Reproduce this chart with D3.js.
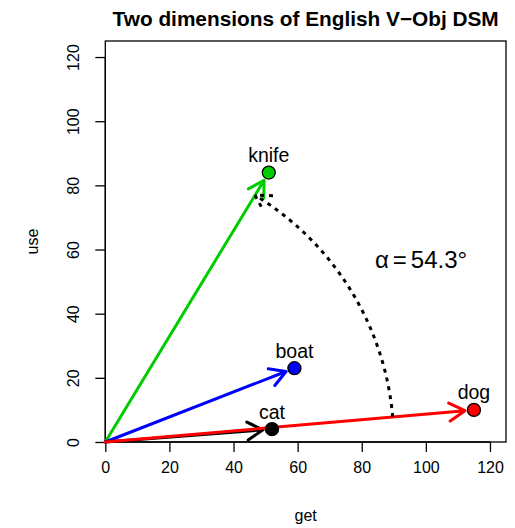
<!DOCTYPE html>
<html>
<head>
<meta charset="utf-8">
<script src="https://cdn.jsdelivr.net/npm/d3@7"></script>
<style>
  html, body { margin: 0; padding: 0; background: #fff; }
  text { font-family: "Liberation Sans", Arial, Helvetica, sans-serif; }
</style>
</head>
<body>
<script>
// ---- data ----
const words = ["knife", "boat", "cat", "dog"];
const getVals = [51, 59, 52, 115];
const useVals = [84, 23, 4, 10];
const colors = ["#00CD00", "#0000FF", "#000000", "#FF0000"];
const xTicks = [0, 20, 40, 60, 80, 100, 120];
const yTicks = [0, 20, 40, 60, 80, 100, 120];
const xDomain = [0, 125];
const yDomain = [0, 125];
const arcRadius = 90;           // radius of the angle arc (data units)
const angleLabel = "54.3";      // alpha in degrees
const angleLabelPos = [98.5, 57];
const title = "Two dimensions of English V\u2212Obj DSM";
const xTitle = "get";
const yTitle = "use";

// ---- layout ----
const W = 515, H = 528;
const L = 105.3, R = 506, T = 41, B = 442;

const svg = d3.select("body").append("svg")
  .attr("width", W).attr("height", H)
  .style("background", "#fff");

const x = d3.scaleLinear().domain(xDomain).range([L, R]);
const y = d3.scaleLinear().domain(yDomain).range([B, T]);

// box
svg.append("rect")
  .attr("x", L).attr("y", T).attr("width", R - L).attr("height", B - T)
  .attr("fill", "none").attr("stroke", "#000").attr("stroke-width", 1.3);

// axes
const xAxis = d3.axisBottom(x).tickValues(xTicks).tickSize(10).tickPadding(10).tickSizeOuter(0);
const gx = svg.append("g").attr("transform", `translate(0,${B})`).call(xAxis);
gx.select(".domain").attr("d", `M${x(xTicks[0])},0H${x(xTicks[xTicks.length-1])}`).attr("stroke-width", 1.3);
gx.selectAll(".tick line").attr("stroke-width", 1.3);
gx.selectAll(".tick text").attr("font-size", 16).attr("fill", "#000")
  .attr("font-family", "Liberation Sans, Arial, sans-serif");

const yAxis = d3.axisLeft(y).tickValues(yTicks).tickSize(10).tickSizeOuter(0);
const gy = svg.append("g").attr("transform", `translate(${L},0)`).call(yAxis);
gy.select(".domain").attr("d", `M0,${y(yTicks[0])}V${y(yTicks[yTicks.length-1])}`).attr("stroke-width", 1.3);
gy.selectAll(".tick line").attr("stroke-width", 1.3);
gy.selectAll(".tick text")
  .attr("font-size", 16).attr("fill", "#000")
  .attr("font-family", "Liberation Sans, Arial, sans-serif")
  .attr("x", null).attr("dy", null)
  .attr("text-anchor", "middle")
  .attr("transform", "translate(-26,0) rotate(-90)");

// titles
svg.append("text").attr("x", (L + R) / 2).attr("y", 26)
  .attr("text-anchor", "middle").attr("font-size", 20.8).attr("font-weight", "bold")
  .text(title);
svg.append("text").attr("x", (L + R) / 2).attr("y", 521)
  .attr("text-anchor", "middle").attr("font-size", 16).text(xTitle);
svg.append("text")
  .attr("transform", `translate(37.5,${(T + B) / 2}) rotate(-90)`)
  .attr("text-anchor", "middle").attr("font-size", 16).text(yTitle);

// helpers
const headLen = 18, headAng = Math.PI / 6;
function headPath(tx, ty, dx, dy) {
  const a = Math.atan2(dy, dx);
  const a1 = a + Math.PI - headAng, a2 = a + Math.PI + headAng;
  return `M${tx + headLen * Math.cos(a1)},${ty + headLen * Math.sin(a1)}L${tx},${ty}L${tx + headLen * Math.cos(a2)},${ty + headLen * Math.sin(a2)}`;
}

// vectors
const shorten = 9;
const arrows = svg.append("g");
words.forEach((w, i) => {
  const x0 = x(0), y0 = y(0), x1 = x(getVals[i]), y1 = y(useVals[i]);
  const len = Math.hypot(x1 - x0, y1 - y0);
  const ux = (x1 - x0) / len, uy = (y1 - y0) / len;
  const tx = x1 - ux * shorten, ty = y1 - uy * shorten;
  arrows.append("path")
    .attr("d", `M${x0},${y0}L${tx},${ty}` + headPath(tx, ty, ux, uy))
    .attr("fill", "none").attr("stroke", colors[i]).attr("stroke-width", 3)
    .attr("stroke-linecap", "round").attr("stroke-linejoin", "round");
});

// angle arc from dog to knife
const iDog = words.indexOf("dog"), iKnife = words.indexOf("knife");
const th0 = Math.atan2(useVals[iDog], getVals[iDog]);
const th1 = Math.atan2(useVals[iKnife], getVals[iKnife]);
const arcPts = d3.range(0, 101).map(k => {
  const t = th0 + (th1 - th0) * k / 100;
  return [x(arcRadius * Math.cos(t)), y(arcRadius * Math.sin(t))];
});
const endP = arcPts[arcPts.length - 1], prevP = arcPts[arcPts.length - 2];
const ddx = endP[0] - prevP[0], ddy = endP[1] - prevP[1];
const dl = Math.hypot(ddx, ddy);
svg.append("path")
  .attr("d", d3.line()(arcPts) + headPath(endP[0], endP[1], ddx / dl, ddy / dl))
  .attr("fill", "none").attr("stroke", "#000").attr("stroke-width", 3)
  .attr("stroke-dasharray", "4,5");

// points
svg.append("g").selectAll("circle").data(words).join("circle")
  .attr("cx", (d, i) => x(getVals[i])).attr("cy", (d, i) => y(useVals[i]))
  .attr("r", 6.5).attr("fill", (d, i) => colors[i])
  .attr("stroke", "#000").attr("stroke-width", 1.3);

// labels
svg.append("g").selectAll("text").data(words).join("text")
  .attr("x", (d, i) => x(getVals[i])).attr("y", (d, i) => y(useVals[i]) - 10.5)
  .attr("text-anchor", "middle").attr("font-size", 19.5).text(d => d);

// angle label
const al = svg.append("text")
  .attr("x", x(angleLabelPos[0])).attr("y", y(angleLabelPos[1]))
  .attr("dy", "0.36em").attr("text-anchor", "middle").attr("font-size", 24);
al.append("tspan").text("\u03B1");
al.append("tspan").attr("dx", 4).text("=");
al.append("tspan").attr("dx", 4).text(angleLabel + "\u00B0");
</script>
</body>
</html>
